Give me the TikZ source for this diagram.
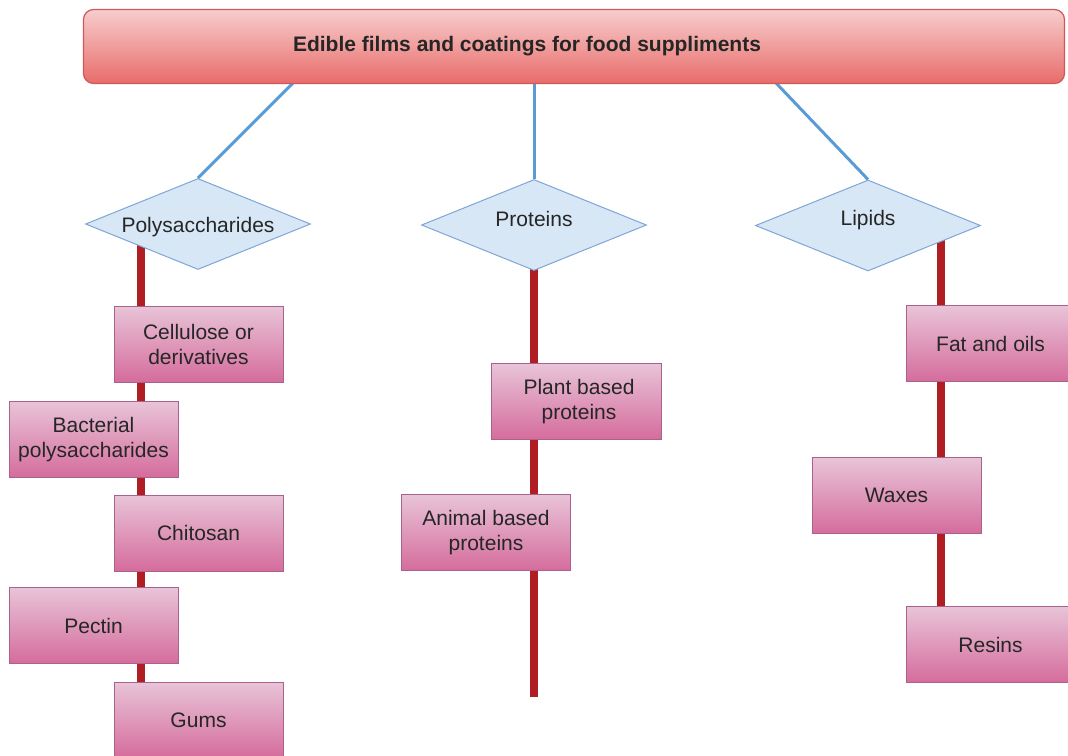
\documentclass[tikz,border=0pt]{standalone}
\usepackage{fontspec}
\setmainfont{Liberation Sans}
\usetikzlibrary{shapes.geometric,calc}
\pgfdeclarelayer{background}
\pgfsetlayers{background,main}
\definecolor{titletop}{HTML}{F7CDCD}
\definecolor{titlebot}{HTML}{E86C6A}
\definecolor{titleline}{HTML}{D0585A}
\definecolor{diafill}{HTML}{D8E7F6}
\definecolor{dialine}{HTML}{7EA6D6}
\definecolor{blueline}{HTML}{5B9BD5}
\definecolor{redline}{HTML}{B01E24}
\definecolor{pinktop}{HTML}{E8C4D8}
\definecolor{pinkbot}{HTML}{D56C9C}
\definecolor{pinkline}{HTML}{A8628C}
\tikzset{
  txt/.style={font=\fontsize{21}{25}\selectfont, text=black!85},
  titlebox/.style={txt, font=\fontsize{21}{25}\selectfont\bfseries, rectangle, rounded corners=10pt,
    top color=titletop, bottom color=titlebot, draw=titleline, line width=1.2pt,
    minimum width=981pt, minimum height=74pt},
  catdia/.style={txt, diamond, aspect=2.45, inner sep=0pt, fill=diafill, draw=dialine, line width=1pt,
    minimum width=225pt, minimum height=91pt},
  itembox/.style={txt, rectangle, align=center, top color=pinktop, bottom color=pinkbot,
    draw=pinkline, line width=1pt, minimum width=169pt, minimum height=76pt, inner sep=2pt},
  bluecon/.style={draw=blueline, line width=3pt},
  redcon/.style={draw=redline, line width=8pt}
}
\begin{document}
\begin{tikzpicture}[x=1pt,y=-1pt]
\useasboundingbox (0,0) rectangle (1068,755);
\node[titlebox] (title) at (574,46.5) {Edible films and coatings for food suppliments\hspace*{94pt}};
\node[catdia] (poly) at (198,224) {\raisebox{-3pt}[\height][\depth]{Polysaccharides}};
\node[catdia] (prot) at (534,225) {\raisebox{6pt}[\height][\depth]{Proteins}};
\node[catdia] (lip) at (868,225.5) {\raisebox{5pt}[\height][\depth]{Lipids}};
\node[itembox] (cell) at (198.5,344) {Cellulose or\\derivatives};
\node[itembox] (bact) at (93.5,439.5) {Bacterial\\polysaccharides};
\node[itembox] (chit) at (198.5,533) {Chitosan};
\node[itembox] (pect) at (93.5,625.5) {Pectin};
\node[itembox] (gums) at (198.5,720) {Gums};
\node[itembox, minimum width=170pt] (plant) at (576,401.5) {\hspace*{6pt}Plant based\\\hspace*{6pt}proteins};
\node[itembox] (animal) at (486,532.5) {Animal based\\proteins};
\node[itembox] (fat) at (990.5,343.5) {Fat and oils};
\node[itembox] (wax) at (896.5,495.5) {Waxes};
\node[itembox] (resin) at (990.5,644.5) {Resins};
\coordinate (t1) at (293,83);
\coordinate (t3) at (776,83);
\coordinate (lb) at (141,760);
\coordinate (pb) at (534,697);
\coordinate (rb) at (941,400);
\begin{pgfonlayer}{background}
\draw[bluecon] (t1) -- (poly.north);
\draw[bluecon] (prot.north |- title.south) -- (prot.north);
\draw[bluecon] (t3) -- (lip.north);
\draw[redcon] (lb |- poly) -- (lb);
\draw[redcon] (prot.center) -- (pb);
\draw[redcon] (lip -| rb) -- (resin.north -| rb);
\end{pgfonlayer}
\end{tikzpicture}
\end{document}
